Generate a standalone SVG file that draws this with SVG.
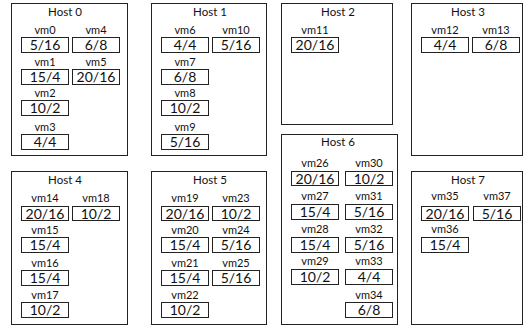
<svg xmlns="http://www.w3.org/2000/svg" width="532" height="329" viewBox="0 0 532 329">
<style>
.host{fill:#fff;stroke:#222;stroke-width:1}
.box{fill:#fff;stroke:#222;stroke-width:1}
.ttl{font-family:Lato,"Liberation Sans",sans-serif;font-size:11.5px;fill:#111;text-anchor:middle}
.lbl{font-family:Lato,"Liberation Sans",sans-serif;font-size:11px;fill:#111;text-anchor:middle}
.val{font-family:Lato,"Liberation Sans",sans-serif;font-size:14px;fill:#111;text-anchor:middle}
</style>
<rect width="532" height="329" fill="#fff"/>
<g id="host0">
<rect class="host" x="11.5" y="3.5" width="116" height="152"/>
<text class="ttl" x="65" y="16">Host 0</text>
<g id="vm0" transform="translate(21.5,37.5)"><text class="lbl" x="23.5" y="-4">vm0</text><rect class="box" width="47" height="15"/><text class="val" x="23.5" y="12.5">5/16</text></g>
<g id="vm4" transform="translate(72.5,37.5)"><text class="lbl" x="23.5" y="-4">vm4</text><rect class="box" width="47" height="15"/><text class="val" x="23.5" y="12.5">6/8</text></g>
<g id="vm1" transform="translate(21.5,69.5)"><text class="lbl" x="23.5" y="-4">vm1</text><rect class="box" width="47" height="15"/><text class="val" x="23.5" y="12.5">15/4</text></g>
<g id="vm5" transform="translate(72.5,69.5)"><text class="lbl" x="23.5" y="-4">vm5</text><rect class="box" width="47" height="15"/><text class="val" x="23.5" y="12.5">20/16</text></g>
<g id="vm2" transform="translate(21.5,100.5)"><text class="lbl" x="23.5" y="-4">vm2</text><rect class="box" width="47" height="15"/><text class="val" x="23.5" y="12.5">10/2</text></g>
<g id="vm3" transform="translate(21.5,134.5)"><text class="lbl" x="23.5" y="-4">vm3</text><rect class="box" width="47" height="15"/><text class="val" x="23.5" y="12.5">4/4</text></g>
</g>
<g id="host1">
<rect class="host" x="151.5" y="3.5" width="115" height="152"/>
<text class="ttl" x="210" y="16">Host 1</text>
<g id="vm6" transform="translate(161.5,37.5)"><text class="lbl" x="23.5" y="-4">vm6</text><rect class="box" width="47" height="15"/><text class="val" x="23.5" y="12.5">4/4</text></g>
<g id="vm10" transform="translate(212.5,37.5)"><text class="lbl" x="23.5" y="-4">vm10</text><rect class="box" width="47" height="15"/><text class="val" x="23.5" y="12.5">5/16</text></g>
<g id="vm7" transform="translate(161.5,69.5)"><text class="lbl" x="23.5" y="-4">vm7</text><rect class="box" width="47" height="15"/><text class="val" x="23.5" y="12.5">6/8</text></g>
<g id="vm8" transform="translate(161.5,100.5)"><text class="lbl" x="23.5" y="-4">vm8</text><rect class="box" width="47" height="15"/><text class="val" x="23.5" y="12.5">10/2</text></g>
<g id="vm9" transform="translate(161.5,134.5)"><text class="lbl" x="23.5" y="-4">vm9</text><rect class="box" width="47" height="15"/><text class="val" x="23.5" y="12.5">5/16</text></g>
</g>
<g id="host2">
<rect class="host" x="281.5" y="3.5" width="111" height="121"/>
<text class="ttl" x="338" y="16">Host 2</text>
<g id="vm11" transform="translate(291.5,37.5)"><text class="lbl" x="23.5" y="-4">vm11</text><rect class="box" width="47" height="15"/><text class="val" x="23.5" y="12.5">20/16</text></g>
</g>
<g id="host3">
<rect class="host" x="411.5" y="3.5" width="111" height="152"/>
<text class="ttl" x="468" y="16">Host 3</text>
<g id="vm12" transform="translate(421.5,37.5)"><text class="lbl" x="23.5" y="-4">vm12</text><rect class="box" width="47" height="15"/><text class="val" x="23.5" y="12.5">4/4</text></g>
<g id="vm13" transform="translate(472.5,37.5)"><text class="lbl" x="23.5" y="-4">vm13</text><rect class="box" width="47" height="15"/><text class="val" x="23.5" y="12.5">6/8</text></g>
</g>
<g id="host4">
<rect class="host" x="11.5" y="171.5" width="116" height="153"/>
<text class="ttl" x="65" y="184">Host 4</text>
<g id="vm14" transform="translate(21.5,206.5)"><text class="lbl" x="23.5" y="-4.5">vm14</text><rect class="box" width="47" height="14"/><text class="val" x="23.5" y="12">20/16</text></g>
<g id="vm18" transform="translate(72.5,206.5)"><text class="lbl" x="23.5" y="-4.5">vm18</text><rect class="box" width="47" height="14"/><text class="val" x="23.5" y="12">10/2</text></g>
<g id="vm15" transform="translate(21.5,237.5)"><text class="lbl" x="23.5" y="-4">vm15</text><rect class="box" width="47" height="15"/><text class="val" x="23.5" y="12.5">15/4</text></g>
<g id="vm16" transform="translate(21.5,270.5)"><text class="lbl" x="23.5" y="-4">vm16</text><rect class="box" width="47" height="15"/><text class="val" x="23.5" y="12.5">15/4</text></g>
<g id="vm17" transform="translate(21.5,302.5)"><text class="lbl" x="23.5" y="-4">vm17</text><rect class="box" width="47" height="15"/><text class="val" x="23.5" y="12.5">10/2</text></g>
</g>
<g id="host5">
<rect class="host" x="151.5" y="171.5" width="115" height="153"/>
<text class="ttl" x="210" y="184">Host 5</text>
<g id="vm19" transform="translate(161.5,206.5)"><text class="lbl" x="23.5" y="-4.5">vm19</text><rect class="box" width="47" height="14"/><text class="val" x="23.5" y="12">20/16</text></g>
<g id="vm23" transform="translate(212.5,206.5)"><text class="lbl" x="23.5" y="-4.5">vm23</text><rect class="box" width="47" height="14"/><text class="val" x="23.5" y="12">10/2</text></g>
<g id="vm20" transform="translate(161.5,237.5)"><text class="lbl" x="23.5" y="-4">vm20</text><rect class="box" width="47" height="15"/><text class="val" x="23.5" y="12.5">15/4</text></g>
<g id="vm24" transform="translate(212.5,237.5)"><text class="lbl" x="23.5" y="-4">vm24</text><rect class="box" width="47" height="15"/><text class="val" x="23.5" y="12.5">5/16</text></g>
<g id="vm21" transform="translate(161.5,270.5)"><text class="lbl" x="23.5" y="-4">vm21</text><rect class="box" width="47" height="15"/><text class="val" x="23.5" y="12.5">15/4</text></g>
<g id="vm25" transform="translate(212.5,270.5)"><text class="lbl" x="23.5" y="-4">vm25</text><rect class="box" width="47" height="15"/><text class="val" x="23.5" y="12.5">5/16</text></g>
<g id="vm22" transform="translate(161.5,302.5)"><text class="lbl" x="23.5" y="-4">vm22</text><rect class="box" width="47" height="15"/><text class="val" x="23.5" y="12.5">10/2</text></g>
</g>
<g id="host6">
<rect class="host" x="281.5" y="134.5" width="116" height="190"/>
<text class="ttl" x="338" y="146">Host 6</text>
<g id="vm26" transform="translate(291.5,171.5)"><text class="lbl" x="23.5" y="-5">vm26</text><rect class="box" width="47" height="14"/><text class="val" x="23.5" y="12">20/16</text></g>
<g id="vm30" transform="translate(345.5,171.5)"><text class="lbl" x="23.5" y="-5">vm30</text><rect class="box" width="47" height="14"/><text class="val" x="23.5" y="12">10/2</text></g>
<g id="vm27" transform="translate(291.5,204.5)"><text class="lbl" x="23.5" y="-5">vm27</text><rect class="box" width="47" height="15"/><text class="val" x="23.5" y="12.5">15/4</text></g>
<g id="vm31" transform="translate(345.5,204.5)"><text class="lbl" x="23.5" y="-5">vm31</text><rect class="box" width="47" height="15"/><text class="val" x="23.5" y="12.5">5/16</text></g>
<g id="vm28" transform="translate(291.5,237.5)"><text class="lbl" x="23.5" y="-5">vm28</text><rect class="box" width="47" height="15"/><text class="val" x="23.5" y="12.5">15/4</text></g>
<g id="vm32" transform="translate(345.5,237.5)"><text class="lbl" x="23.5" y="-5">vm32</text><rect class="box" width="47" height="15"/><text class="val" x="23.5" y="12.5">5/16</text></g>
<g id="vm29" transform="translate(291.5,269.5)"><text class="lbl" x="23.5" y="-5">vm29</text><rect class="box" width="47" height="15"/><text class="val" x="23.5" y="12.5">10/2</text></g>
<g id="vm33" transform="translate(345.5,269.5)"><text class="lbl" x="23.5" y="-5">vm33</text><rect class="box" width="47" height="15"/><text class="val" x="23.5" y="12.5">4/4</text></g>
<g id="vm34" transform="translate(345.5,302.5)"><text class="lbl" x="23.5" y="-3.5">vm34</text><rect class="box" width="47" height="15"/><text class="val" x="23.5" y="12.5">6/8</text></g>
</g>
<g id="host7">
<rect class="host" x="411.5" y="171.5" width="111" height="153"/>
<text class="ttl" x="468" y="184">Host 7</text>
<g id="vm35" transform="translate(421.5,206.5)"><text class="lbl" x="23.5" y="-7">vm35</text><rect class="box" width="47" height="14"/><text class="val" x="23.5" y="12">20/16</text></g>
<g id="vm37" transform="translate(473.5,206.5)"><text class="lbl" x="23.5" y="-7">vm37</text><rect class="box" width="47" height="14"/><text class="val" x="23.5" y="12">5/16</text></g>
<g id="vm36" transform="translate(421.5,237.5)"><text class="lbl" x="23.5" y="-5">vm36</text><rect class="box" width="47" height="15"/><text class="val" x="23.5" y="12.5">15/4</text></g>
</g>
<g id="connectors"/>
</svg>
